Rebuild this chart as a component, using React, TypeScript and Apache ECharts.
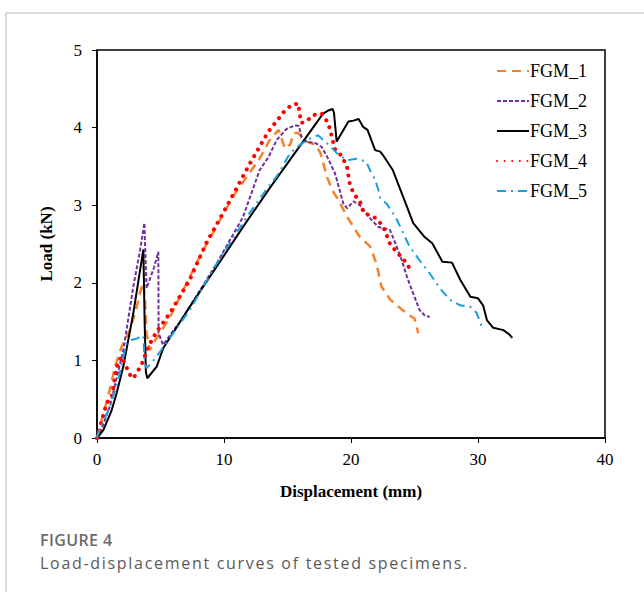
import React, { useEffect, useRef } from "react";
import * as echarts from "echarts";

// Displacement (mm) and Load (kN)
const FGM_1_D = [0, 0.37, 1.0, 1.42, 1.94, 2.6, 3.13, 3.4, 3.65, 3.78, 3.9, 4.17, 4.43, 5.75, 8.1, 10.7, 12.8, 13.6, 14.3, 14.8, 15.2, 15.5, 15.85, 16.5, 17.2, 17.6, 18.1, 18.5, 19.0, 19.7, 20.7, 21.5, 22.0, 22.4, 23.1, 23.9, 24.6, 25.0, 25.3];
const FGM_1_L = [0, 0.23, 0.62, 0.92, 1.18, 1.39, 1.69, 1.88, 2.0, 1.78, 1.35, 1.13, 1.22, 1.56, 2.34, 3.11, 3.6, 3.84, 3.97, 3.73, 3.78, 3.93, 3.93, 3.82, 3.78, 3.67, 3.37, 3.2, 3.07, 2.85, 2.59, 2.47, 2.25, 1.95, 1.78, 1.67, 1.58, 1.54, 1.35];

const FGM_2_D = [0, 0.24, 1.0, 2.07, 2.86, 3.39, 3.73, 3.9, 4.5, 4.83, 4.85, 5.2, 6.8, 9.43, 11.5, 12.8, 13.5, 14.15, 14.9, 15.6, 15.9, 16.1, 16.5, 17.2, 17.7, 18.2, 18.74, 19.1, 19.4, 19.7, 20.2, 20.7, 21.1, 21.5, 22.15, 23.07, 23.3, 24.0, 24.4, 24.9, 25.4, 25.8, 26.2];
const FGM_2_L = [0, 0.06, 0.4, 1.13, 1.95, 2.42, 2.77, 1.93, 2.2, 2.4, 1.35, 1.2, 1.56, 2.25, 2.85, 3.45, 3.62, 3.84, 3.98, 4.03, 4.02, 3.88, 3.82, 3.8, 3.75, 3.6, 3.41, 3.2, 3.02, 2.96, 3.05, 3.0, 2.92, 2.83, 2.72, 2.68, 2.59, 2.29, 2.08, 1.86, 1.65, 1.58, 1.56];

const FGM_3_D = [0, 0.5, 1.16, 1.55, 2.07, 2.86, 3.65, 3.75, 3.85, 3.96, 4.7, 5.22, 7.3, 9.43, 11.5, 13.6, 15.7, 17.8, 18.2, 18.56, 18.66, 18.87, 19.8, 20.2, 20.6, 20.95, 21.3, 21.9, 22.3, 22.5, 23.3, 24.1, 24.9, 25.8, 26.4, 27.2, 27.95, 28.6, 29.4, 30.0, 30.4, 30.7, 31.2, 32.0, 32.5, 32.7];
const FGM_3_L = [0, 0.1, 0.36, 0.58, 0.92, 1.61, 2.43, 1.5, 0.85, 0.77, 0.92, 1.16, 1.69, 2.21, 2.72, 3.22, 3.7, 4.18, 4.22, 4.24, 4.19, 3.82, 4.08, 4.09, 4.11, 4.01, 3.97, 3.71, 3.69, 3.65, 3.45, 3.11, 2.77, 2.59, 2.51, 2.27, 2.26, 2.04, 1.82, 1.8, 1.71, 1.52, 1.42, 1.39, 1.33, 1.29];

const FGM_4_D = [0, 0.1, 0.76, 1.16, 1.55, 1.94, 2.3, 2.73, 2.9, 3.5, 4.04, 4.7, 5.75, 7.3, 8.6, 10.2, 12.05, 13.5, 14.7, 15.3, 15.85, 16.0, 16.1, 16.5, 17.0, 17.7, 18.2, 18.5, 18.7, 19.3, 19.7, 19.9, 20.2, 20.7, 21.0, 21.8, 22.5, 23.1, 23.7, 24.4, 24.8];
const FGM_4_L = [0, 0.06, 0.45, 0.53, 0.92, 1.05, 0.92, 0.77, 0.78, 0.94, 1.18, 1.37, 1.61, 2.04, 2.51, 2.98, 3.54, 3.95, 4.2, 4.29, 4.31, 4.14, 4.06, 4.08, 4.16, 4.18, 4.06, 3.88, 3.73, 3.63, 3.48, 3.28, 3.15, 3.05, 2.9, 2.85, 2.74, 2.49, 2.38, 2.25, 2.12];

const FGM_5_D = [0, 0.1, 1.0, 1.68, 2.07, 2.34, 2.6, 3.1, 3.65, 3.75, 3.9, 4.7, 6.0, 7.3, 9.43, 11.8, 13.5, 14.15, 15.2, 16.0, 16.8, 17.4, 18.1, 18.9, 19.7, 20.45, 21.2, 21.5, 21.9, 22.15, 22.3, 22.8, 23.5, 24.0, 24.6, 25.4, 26.2, 27.0, 27.8, 28.6, 29.4, 29.9, 30.3];
const FGM_5_L = [0, 0.06, 0.4, 0.75, 1.05, 1.22, 1.26, 1.28, 1.32, 0.96, 0.9, 1.05, 1.35, 1.65, 2.25, 2.85, 3.24, 3.37, 3.67, 3.78, 3.86, 3.9, 3.8, 3.67, 3.58, 3.6, 3.56, 3.45, 3.33, 3.2, 3.09, 3.02, 2.85, 2.68, 2.47, 2.29, 2.12, 1.93, 1.78, 1.71, 1.69, 1.61, 1.43];

const SERIES_NAMES = ["FGM_1", "FGM_2", "FGM_3", "FGM_4", "FGM_5"];
const X_TICKS = [0, 10, 20, 30, 40];
const Y_TICKS = [0, 1, 2, 3, 4, 5];

const zip = (xs: number[], ys: number[]) => xs.map((x, i) => [x, ys[i]]);

const SERIF = "'Liberation Serif', 'Times New Roman', serif";
const SANS = "'Open Sans', 'Noto Sans', sans-serif";

export default function App() {
  const ref = useRef<HTMLDivElement>(null);

  useEffect(() => {
    if (!ref.current) return;
    const chart = echarts.init(ref.current, null, { renderer: "svg" });
    const data = [
      zip(FGM_1_D, FGM_1_L),
      zip(FGM_2_D, FGM_2_L),
      zip(FGM_3_D, FGM_3_L),
      zip(FGM_4_D, FGM_4_L),
      zip(FGM_5_D, FGM_5_L),
    ];
    const styles: any[] = [
      { color: "#F5822A", width: 2.5, type: [9, 6] },
      { color: "#7030A0", width: 2, type: [4, 2] },
      { color: "#000000", width: 2, type: "solid" },
      { color: "#FF0000", width: 4, type: [0.1, 7.5], cap: "round" },
      { color: "#1A9FDB", width: 2, type: [9, 5, 2, 5] },
    ];
    chart.setOption({
      animation: false,
      backgroundColor: "#ffffff",
      grid: { left: 97, right: 39, top: 50, bottom: 154, show: true, borderColor: "#000", borderWidth: 1.5, backgroundColor: "transparent" },
      legend: {
        orient: "vertical",
        right: 52,
        top: 57,
        itemWidth: 32,
        itemHeight: 10,
        itemGap: 12,
        itemStyle: { opacity: 0 },
        textStyle: { fontFamily: SERIF, fontSize: 18, color: "#000", padding: [0, 0, 0, -4] },
        data: SERIES_NAMES,
      },
      xAxis: {
        type: "value",
        min: X_TICKS[0],
        max: X_TICKS[X_TICKS.length - 1],
        interval: 10,
        name: "Displacement (mm)",
        nameLocation: "middle",
        nameGap: 45,
        nameTextStyle: { fontFamily: SERIF, fontSize: 17, fontWeight: "bold", color: "#000" },
        axisLine: { onZero: false, lineStyle: { color: "#000", width: 1.5 } },
        axisTick: { show: true, inside: false, length: 5, lineStyle: { color: "#000" } },
        axisLabel: { fontFamily: SERIF, fontSize: 17, color: "#000", margin: 13 },
        splitLine: { show: false },
      },
      yAxis: {
        type: "value",
        min: Y_TICKS[0],
        max: Y_TICKS[Y_TICKS.length - 1],
        interval: 1,
        name: "Load (kN)",
        nameLocation: "middle",
        nameGap: 42,
        nameTextStyle: { fontFamily: SERIF, fontSize: 17, fontWeight: "bold", color: "#000" },
        axisLine: { onZero: false, lineStyle: { color: "#000", width: 1.5 } },
        axisTick: { show: true, inside: false, length: 5, lineStyle: { color: "#000" } },
        axisLabel: { fontFamily: SERIF, fontSize: 17, color: "#000", margin: 15 },
        splitLine: { show: false },
      },
      series: SERIES_NAMES.map((name, i) => ({
        name,
        type: "line",
        data: data[i],
        showSymbol: false,
        symbol: "none",
        lineStyle: styles[i],
        itemStyle: { color: styles[i].color },
        z: [2, 3, 4, 5, 6][i],
      })),
      graphic: [
        { type: "line", shape: { x1: 6, y1: 13, x2: 644, y2: 13 }, style: { stroke: "#cfcfcf", lineWidth: 1.5 } },
        { type: "line", shape: { x1: 6, y1: 13, x2: 6, y2: 592 }, style: { stroke: "#cfcfcf", lineWidth: 1.5 } },
      ],
    });
    return () => chart.dispose();
  }, []);

  return (
    <div style={{ position: "fixed", left: 0, top: 0, width: 644, height: 592, background: "#fff", overflow: "hidden" }}>
      <div ref={ref} style={{ width: 644, height: 592 }} />
      <div style={{ position: "absolute", left: 40, top: 532, fontFamily: SANS, fontSize: 16, lineHeight: "16px", fontWeight: 600, letterSpacing: "0.4px", color: "#6a6a6a", whiteSpace: "nowrap" }}>
        FIGURE 4
      </div>
      <div style={{ position: "absolute", left: 40, top: 555, fontFamily: SANS, fontSize: 16, lineHeight: "16px", letterSpacing: "1.7px", color: "#5a5a5a", whiteSpace: "nowrap" }}>
        Load-displacement curves of tested specimens.
      </div>
    </div>
  );
}
